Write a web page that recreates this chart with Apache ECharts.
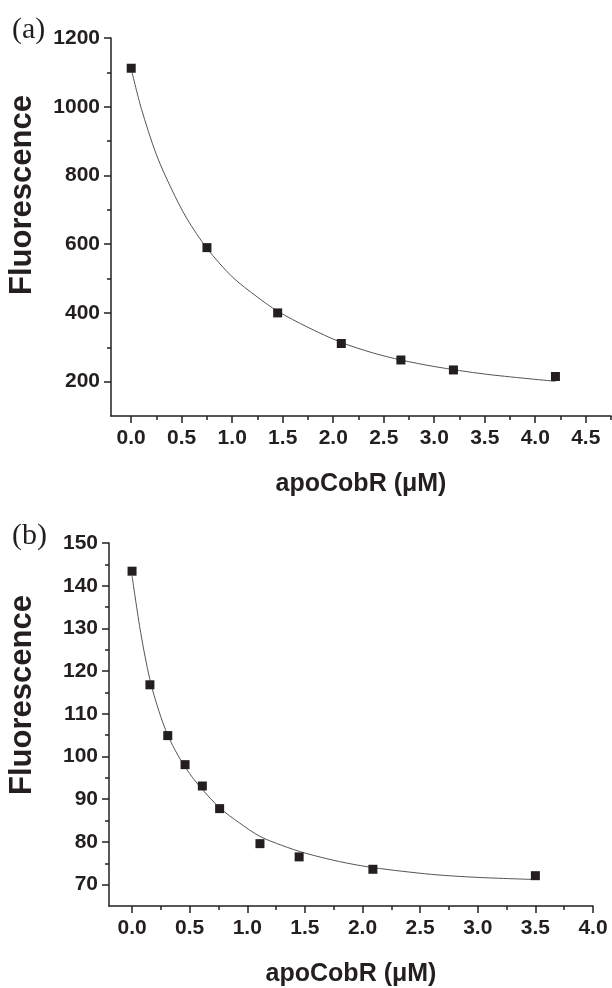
<!DOCTYPE html>
<html>
<head>
<meta charset="utf-8">
<script src="https://cdn.jsdelivr.net/npm/echarts@6/dist/echarts.min.js"></script>
<style>
  html, body { margin: 0; padding: 0; background: #fff; }
  #chart { width: 612px; height: 988px; }
</style>
</head>
<body>
<div id="chart"></div>
<script>
// panel (a) measured points
var aX = [0, 0.75, 1.45, 2.08, 2.67, 3.19, 4.2];
var aY = [1112, 590, 400, 311, 263, 234, 215];
// panel (a) fitted curve
var aFitX = [0, 0.1, 0.25, 0.4, 0.55, 0.75, 1.0, 1.25, 1.45, 1.75, 2.08, 2.4, 2.67, 3.0, 3.5, 4.2];
var aFitY = [1110, 995, 860, 760, 675, 588, 505, 446, 405, 358, 314, 283, 263, 244, 222, 201];

// panel (b) measured points
var bX = [0, 0.155, 0.31, 0.46, 0.61, 0.76, 1.11, 1.45, 2.09, 3.5];
var bY = [143.4, 116.8, 104.9, 98.1, 93.1, 87.8, 79.6, 76.5, 73.6, 72.1];
// panel (b) fitted curve
var bFitX = [0, 0.075, 0.155, 0.235, 0.31, 0.4, 0.5, 0.6, 0.76, 0.93, 1.11, 1.3, 1.5, 1.8, 2.09, 2.6, 3.0, 3.5];
var bFitY = [142.3, 129.0, 118.0, 110.5, 105.0, 100.2, 96.0, 92.6, 88.0, 84.5, 81.3, 79.2, 77.4, 75.4, 74.0, 72.4, 71.7, 71.2];

// tick labels
var aXMajor = [0, 0.5, 1, 1.5, 2, 2.5, 3, 3.5, 4, 4.5];
var aXMinor = [0.25, 0.75, 1.25, 1.75, 2.25, 2.75, 3.25, 3.75, 4.25, 4.75];
var aYMajor = [200, 400, 600, 800, 1000, 1200];
var aYMinor = [300, 500, 700, 900, 1100];
var bXMajor = [0, 0.5, 1, 1.5, 2, 2.5, 3, 3.5, 4];
var bXMinor = [0.25, 0.75, 1.25, 1.75, 2.25, 2.75, 3.25, 3.75];
var bYMajor = [70, 80, 90, 100, 110, 120, 130, 140, 150];
var bYMinor = [75, 85, 95, 105, 115, 125, 135, 145];

var ink = '#231f20';
var sans = 'Liberation Sans';

function pairs(xs, ys) {
    var out = [];
    for (var i = 0; i < xs.length; i++) out.push([xs[i], ys[i]]);
    return out;
}

function xAxes(grid, min, max, major, minor) {
    return [{
        type: 'value', gridIndex: grid, position: 'bottom', min: min, max: max,
        name: 'apoCobR (\u03bcM)', nameLocation: 'middle', nameGap: 56,
        nameTextStyle: {fontFamily: sans, fontWeight: 'bold', fontSize: 25, color: ink},
        axisLine: {onZero: false, lineStyle: {color: ink, width: 1.5}},
        axisTick: {customValues: major, length: 7, lineStyle: {color: ink, width: 1.5}},
        axisLabel: {customValues: major, margin: 12, fontFamily: sans, fontWeight: 'bold', fontSize: 21, color: ink,
            formatter: function (v) { return v.toFixed(1); }},
        splitLine: {show: false}
    }, {
        type: 'value', gridIndex: grid, position: 'bottom', min: min, max: max,
        axisLine: {show: false, onZero: false},
        axisTick: {customValues: minor, length: 4, lineStyle: {color: ink, width: 1.5}},
        axisLabel: {show: false},
        splitLine: {show: false}
    }];
}

function yAxes(grid, min, max, major, minor) {
    return [{
        type: 'value', gridIndex: grid, position: 'left', min: min, max: max,
        axisLine: {show: true, onZero: false, lineStyle: {color: ink, width: 1.5}},
        axisTick: {show: true, customValues: major, length: 7, lineStyle: {color: ink, width: 1.5}},
        axisLabel: {customValues: major, margin: 11, fontFamily: sans, fontWeight: 'bold', fontSize: 21, color: ink,
            formatter: function (v) { return String(v); }},
        splitLine: {show: false}
    }, {
        type: 'value', gridIndex: grid, position: 'left', min: min, max: max,
        axisLine: {show: false, onZero: false},
        axisTick: {show: true, customValues: minor, length: 4, lineStyle: {color: ink, width: 1.5}},
        axisLabel: {show: false},
        splitLine: {show: false}
    }];
}

var chart = echarts.init(document.getElementById('chart'), null, {renderer: 'canvas'});

var option = {
    animation: false,
    backgroundColor: '#fff',
    grid: [
        {left: 111, top: 38, width: 500, height: 378},
        {left: 109, top: 543, width: 484, height: 367}
    ],
    xAxis: xAxes(0, -0.2, 4.75, aXMajor, aXMinor).concat(xAxes(1, -0.2, 4, bXMajor, bXMinor)),
    yAxis: yAxes(0, 100, 1200, aYMajor, aYMinor).concat(yAxes(1, 65, 150, bYMajor, bYMinor)),
    graphic: [
        {type: 'text', left: 12, top: 15, style: {text: '(a)', font: '30px "Liberation Serif"', fill: ink}},
        {type: 'text', left: 12, top: 521, style: {text: '(b)', font: '30px "Liberation Serif"', fill: ink}},
        {type: 'text', x: 22, y: 195, rotation: Math.PI / 2,
            style: {text: 'Fluorescence', font: 'bold 31px "Liberation Sans"', fill: ink, align: 'center', verticalAlign: 'middle'}},
        {type: 'text', x: 22, y: 695, rotation: Math.PI / 2,
            style: {text: 'Fluorescence', font: 'bold 31px "Liberation Sans"', fill: ink, align: 'center', verticalAlign: 'middle'}}
    ],
    series: [
        {type: 'line', xAxisIndex: 0, yAxisIndex: 0, data: pairs(aFitX, aFitY), smooth: 0.3,
            showSymbol: false, lineStyle: {color: '#555', width: 1}, z: 2},
        {type: 'scatter', xAxisIndex: 0, yAxisIndex: 0, data: pairs(aX, aY), symbol: 'rect', symbolSize: 9,
            itemStyle: {color: ink, opacity: 1}, z: 3},
        {type: 'line', xAxisIndex: 2, yAxisIndex: 2, data: pairs(bFitX, bFitY), smooth: 0.3,
            showSymbol: false, lineStyle: {color: '#555', width: 1}, z: 2},
        {type: 'scatter', xAxisIndex: 2, yAxisIndex: 2, data: pairs(bX, bY), symbol: 'rect', symbolSize: 9,
            itemStyle: {color: ink, opacity: 1}, z: 3}
    ]
};
chart.setOption(option);
</script>
</body>
</html>
